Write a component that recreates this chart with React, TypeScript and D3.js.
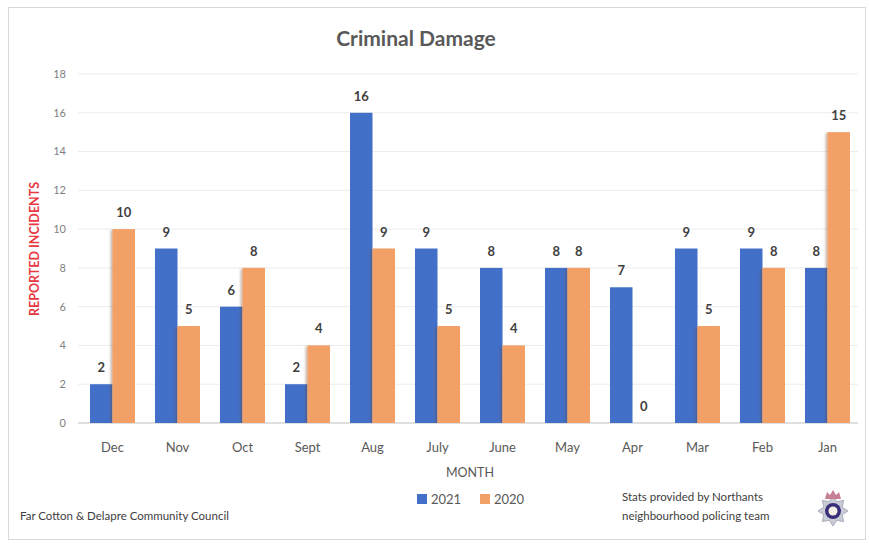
import * as d3 from 'd3'
import React from 'react'

const months = ['Dec', 'Nov', 'Oct', 'Sept', 'Aug', 'July', 'June', 'May', 'Apr', 'Mar', 'Feb', 'Jan']
const series = ['2021', '2020']
const values2021 = [2, 9, 6, 2, 16, 9, 8, 8, 7, 9, 9, 8]
const values2020 = [10, 5, 8, 4, 9, 5, 4, 8, 0, 5, 8, 15]
const yTicks = [0, 2, 4, 6, 8, 10, 12, 14, 16, 18]

const W = 869
const H = 545
const colors: Record<string, string> = { '2021': '#4270c8', '2020': '#f2a066' }
const font = 'Lato, "Open Sans", sans-serif'

const x0 = d3.scaleBand<string>().domain(months).range([80, 860]).paddingInner(20 / 65).paddingOuter(10 / 65)
const x1 = d3.scaleBand<string>().domain(series).range([0, x0.bandwidth()])
const y = d3.scaleLinear().domain([0, 18]).range([423, 74])

const starPoints = (cx: number, cy: number, r1: number, r2: number, n: number) => {
  const pts: string[] = []
  for (let i = 0; i < n * 2; i++) {
    const r = i % 2 === 0 ? r1 : r2
    const a = (Math.PI * i) / n - Math.PI / 2
    pts.push(`${cx + r * Math.cos(a)},${cy + r * Math.sin(a)}`)
  }
  return pts.join(' ')
}

const App: React.FC = () => {
  const data = months.map((m, i) => ({ month: m, '2021': values2021[i], '2020': values2020[i] }))

  return (
    <svg width={W} height={H} style={{ position: 'absolute', left: 0, top: 0, background: '#fff' }} fontFamily={font}>
      <defs>
        <filter id='shadow' x='-30%' y='0%' width='160%' height='100%'>
          <feDropShadow dx={-2} dy={1} stdDeviation={1} floodColor='#6b3a1a' floodOpacity={0.35} />
        </filter>
      </defs>
      <rect x={8.5} y={7.5} width={857} height={532} fill='#fff' stroke='#d9d9d9' />

      <text x={416} y={46} textAnchor='middle' fontSize={21} fontWeight={700} fill='#595959'>
        Criminal Damage
      </text>

      {/* grid + y ticks */}
      {yTicks.map((t) => (
        <g key={t}>
          <line x1={78} x2={858} y1={y(t)} y2={y(t)} stroke={t === 0 ? '#bfbfbf' : '#ececec'} />
          <text x={66} y={y(t)} dy='0.35em' textAnchor='end' fontSize={11} fill='#7f7f7f'>
            {t}
          </text>
        </g>
      ))}

      <text transform='translate(39,249) rotate(-90)' textAnchor='middle' fontSize={12.5} fontWeight={700} fill='#e8383f'>
        REPORTED INCIDENTS
      </text>

      {/* bars */}
      {data.map((d) => (
        <g key={d.month} transform={`translate(${x0(d.month)},0)`}>
          {series.map((s) => {
            const v = d[s as '2021' | '2020']
            return (
              <g key={s}>
                <rect
                  x={x1(s)}
                  y={y(v)}
                  width={x1.bandwidth()}
                  height={y(0) - y(v)}
                  fill={colors[s]}
                  filter={s === '2020' && v > 0 ? 'url(#shadow)' : undefined}
                />
                <text
                  x={(x1(s) || 0) + x1.bandwidth() / 2}
                  y={y(v) - 12}
                  textAnchor='middle'
                  fontSize={13}
                  fontWeight={700}
                  fill='#404040'
                >
                  {v}
                </text>
              </g>
            )
          })}
          <text x={x0.bandwidth() / 2} y={452} textAnchor='middle' fontSize={13} fill='#595959'>
            {d.month}
          </text>
        </g>
      ))}

      <text x={470} y={477} textAnchor='middle' fontSize={12.5} fill='#595959'>
        MONTH
      </text>

      {/* legend */}
      {series.map((s, i) => (
        <g key={s} transform={`translate(${417 + i * 63},494)`}>
          <rect width={10} height={10} fill={colors[s]} />
          <text x={14} y={5} dy='0.35em' fontSize={13} fill='#595959'>
            {s}
          </text>
        </g>
      ))}

      <text x={20} y={520} fontSize={11.5} fill='#404040'>
        Far Cotton &amp; Delapre Community Council
      </text>
      <text x={622} y={501} fontSize={11.5} fill='#404040'>
        Stats provided by Northants
      </text>
      <text x={622} y={520} fontSize={11.5} fill='#404040'>
        neighbourhood policing team
      </text>

      {/* police badge */}
      <g>
        <polygon points={starPoints(833, 511, 15, 10, 8)} fill='#c9ccd6' stroke='#a9adbb' />
        <circle cx={833} cy={511} r={8} fill='#3a2f7a' />
        <circle cx={833} cy={511} r={4.5} fill='#f4f0e6' />
        <path d='M825,499 L827,492 L830,495 L833,490 L836,495 L839,492 L841,499 Z' fill='#c77f95' />
      </g>
    </svg>
  )
}

export default App
